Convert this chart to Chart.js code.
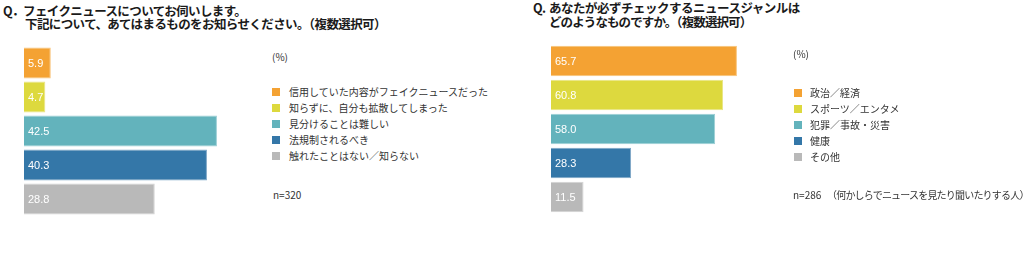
<!DOCTYPE html>
<html>
<head>
<meta charset="utf-8">
<script src="https://cdn.jsdelivr.net/npm/chart.js@4"></script>
<style>
  body { margin: 0; background: #fff; }
  #page { position: relative; width: 1024px; height: 253px; overflow: hidden; font-family: "Noto Sans CJK JP", sans-serif; }
  .t { position: absolute; white-space: nowrap; }
  .title { font-size: 12.5px; font-weight: bold; color: #1a1a1a; line-height: 14px; letter-spacing: -0.6px; }
  .note { font-size: 10px; color: #333; line-height: 14px; }
  .sw { position: absolute; width: 8px; height: 8px; }
  canvas { position: absolute; }
</style>
</head>
<body>
<div id="page">
  <div class="t title" style="left:3px;top:4px">Q．</div>
  <div class="t title" style="left:23px;top:4px">フェイクニュースについてお伺いします。</div>
  <div class="t title" style="left:25px;top:17px">下記について、あてはまるものをお知らせください。（複数選択可）</div>

  <div class="t title" style="left:533px;top:1px">Q.</div>
  <div class="t title" style="left:549px;top:1px;letter-spacing:-0.5px">あなたが必ずチェックするニュースジャンルは</div>
  <div class="t title" style="left:549px;top:15px;letter-spacing:-0.9px">どのようなものですか。（複数選択可）</div>

  <canvas id="chart1" width="227" height="170" style="left:24px;top:46px"></canvas>
  <canvas id="chart2" width="283" height="170" style="left:551px;top:44px"></canvas>
</div>
<script>
// Q1 fake news
const q1Labels = ['信用していた内容がフェイクニュースだった', '知らずに、自分も拡散してしまった', '見分けることは難しい', '法規制されるべき', '触れたことはない／知らない'];
const q1Values = [5.9, 4.7, 42.5, 40.3, 28.8];
const q1Note = 'n=320';

// Q2 news genres
const q2Labels = ['政治／経済', 'スポーツ／エンタメ', '犯罪／事故・災害', '健康', 'その他'];
const q2Values = [65.7, 60.8, 58.0, 28.3, 11.5];
const q2Note = 'n=286';
const q2NoteSub = '（何かしらでニュースを見たり聞いたりする人）';

const barColors = ['#F4A233', '#DDD93E', '#63B3BC', '#3477A8', '#B9B9B9'];
const barEdges = ['#F8C47A', '#E9E684', '#9CCFD5', '#7EA7C6', '#D3D3D3'];

// white value text inside each bar
const valueLabels = {
  id: 'valueLabels',
  afterDatasetsDraw(chart) {
    const ctx = chart.ctx;
    const meta = chart.getDatasetMeta(0);
    ctx.save();
    ctx.font = '11px "Liberation Sans", Arial, sans-serif';
    ctx.fillStyle = '#fff';
    ctx.textBaseline = 'middle';
    meta.data.forEach((bar, i) => {
      let v = chart.data.datasets[0].data[i];
      ctx.fillText(v.toFixed(1), chart.chartArea.left + 4, bar.y + 0.5);
    });
    ctx.restore();
  }
};

function makeChart(id, labels, values, max, barPct) {
  return new Chart(document.getElementById(id), {
    type: 'bar',
    data: {
      labels: labels,
      datasets: [{
        data: values,
        backgroundColor: barColors,
        borderColor: barEdges,
        borderWidth: 1,
        barPercentage: barPct,
        categoryPercentage: 1
      }]
    },
    options: {
      indexAxis: 'y',
      responsive: false,
      animation: false,
      layout: { padding: 0 },
      plugins: { legend: { display: false }, tooltip: { enabled: false } },
      scales: {
        x: { display: false, min: 0, max: max },
        y: { display: false }
      }
    },
    plugins: [valueLabels]
  });
}

makeChart('chart1', q1Labels, q1Values, 50, 0.91);
makeChart('chart2', q2Labels, q2Values, 100, 0.9);

// legends and notes
const page = document.getElementById('page');
function addText(txt, x, cy, cls, spacing) {
  let d = document.createElement('div');
  d.className = 't ' + cls;
  d.style.left = x + 'px';
  d.style.top = (cy - 7) + 'px';
  if (spacing) d.style.letterSpacing = spacing + 'px';
  d.textContent = txt;
  page.appendChild(d);
}
function addLegend(labels, sx, tx, y0, step) {
  labels.forEach((l, i) => {
    let cy = y0 + step * i;
    let s = document.createElement('div');
    s.className = 'sw';
    s.style.left = sx + 'px';
    s.style.top = (cy - 4) + 'px';
    s.style.background = barColors[i];
    page.appendChild(s);
    addText(l, tx, cy, 'note');
  });
}

addText('(%)', 272, 57, 'note');
addLegend(q1Labels, 272, 289, 92, 15.9);
addText(q1Note, 273, 195, 'note');

addText('(%)', 793, 53.5, 'note');
addLegend(q2Labels, 794, 810, 92.5, 16);
addText(q2Note, 793, 195, 'note');
addText(q2NoteSub, 827, 195, 'note', -0.8);
</script>
</body>
</html>
